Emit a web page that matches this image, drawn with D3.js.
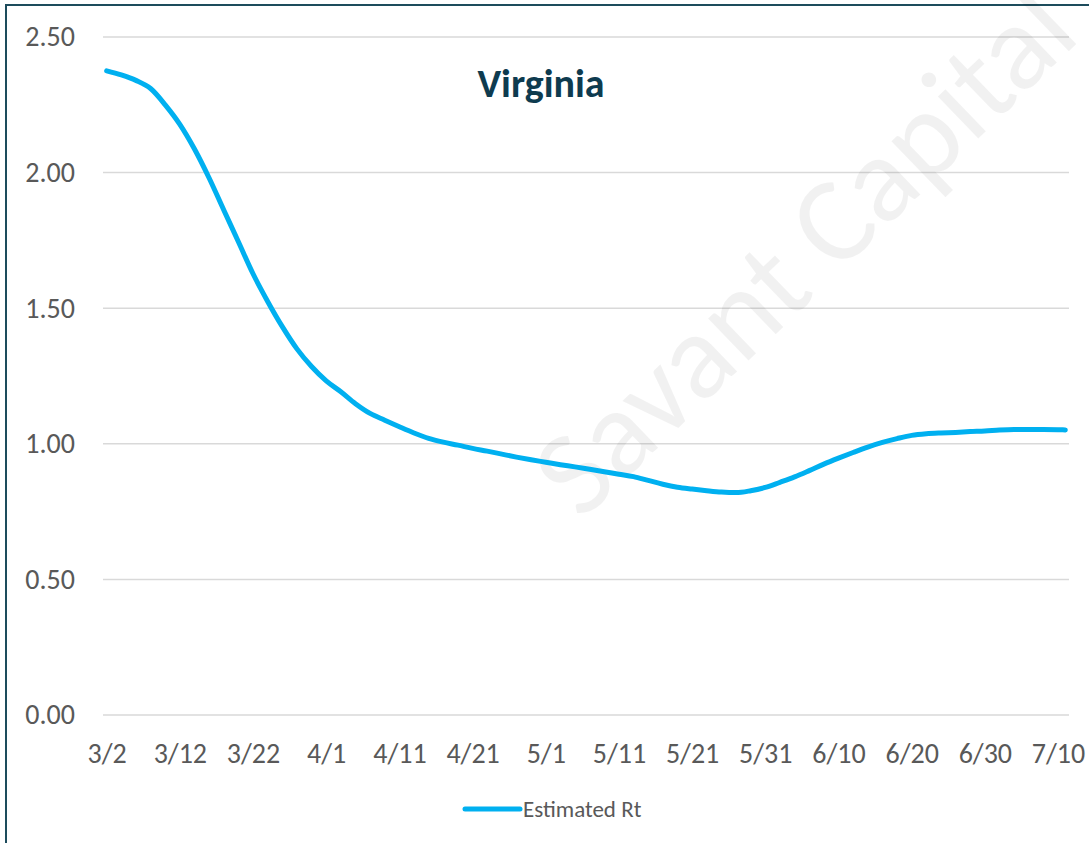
<!DOCTYPE html>
<html>
<head>
<meta charset="utf-8">
<script src="https://cdn.jsdelivr.net/npm/d3@7"></script>
<style>
  html, body { margin: 0; padding: 0; background: #fff; }
  svg { display: block; }
</style>
</head>
<body>
<div class="visContainer"></div>
<script>
// Chart data.
const dates = ['3/2','3/4','3/6','3/8','3/10','3/12','3/14','3/16','3/18','3/20',
  '3/22','3/24','3/26','3/28','3/30','4/1','4/3','4/5','4/7','4/9',
  '4/11','4/13','4/15','4/17','4/19','4/21','4/23','4/25','4/27','4/29',
  '5/1','5/3','5/5','5/7','5/9','5/11','5/13','5/15','5/17','5/19',
  '5/21','5/23','5/25','5/27','5/29','5/31','6/2','6/4','6/6','6/8',
  '6/10','6/12','6/14','6/16','6/18','6/20','6/22','6/24','6/26','6/28',
  '6/30','7/2','7/4','7/6','7/8','7/10','7/11'];
const rtValues = [2.375, 2.36, 2.34, 2.31, 2.25, 2.178, 2.087, 1.98, 1.862, 1.745,
  1.627, 1.525, 1.432, 1.35, 1.285, 1.232, 1.192, 1.148, 1.112, 1.087,
  1.063, 1.04, 1.02, 1.006, 0.995, 0.983, 0.973, 0.962, 0.951, 0.941,
  0.932, 0.923, 0.915, 0.906, 0.897, 0.888, 0.879, 0.865, 0.851, 0.840,
  0.833, 0.827, 0.822, 0.820, 0.827, 0.839, 0.858, 0.878, 0.901, 0.925,
  0.947, 0.968, 0.988, 1.005, 1.019, 1.031, 1.037, 1.040, 1.042, 1.045,
  1.047, 1.051, 1.053, 1.053, 1.053, 1.052, 1.051];
const xTickLabels = ['3/2','3/12','3/22','4/1','4/11','4/21','5/1','5/11','5/21',
  '5/31','6/10','6/20','6/30','7/10'];
const yTickValues = [0, 0.5, 1, 1.5, 2, 2.5];
const seriesName = 'Estimated Rt';
const chartTitle = 'Virginia';
const watermark = 'Savant Capital';

const width = 1089;
const height = 843;
const plotLeft = 103, plotRight = 1069, plotTop = 37, plotBottom = 715;
const font = 'Carlito, Calibri, Lato, sans-serif';

const parse = d3.timeParse('%m/%d/%Y');
const toDate = (s) => parse(s + '/2020');
const halfDay = 12 * 3600 * 1000;

const data = dates.map((d, i) => ({ date: toDate(d), value: rtValues[i] }));

// Scales
const xScale = d3.scaleTime()
  .domain([new Date(+toDate(dates[0]) - halfDay), new Date(+toDate(dates[dates.length - 1]) + halfDay)])
  .range([plotLeft, plotRight]);

const yScale = d3.scaleLinear()
  .domain([0, 2.5])
  .range([plotBottom, plotTop]);

const svg = d3.select('.visContainer')
  .append('svg')
  .attr('width', width)
  .attr('height', height);

// Outer frame (runs off the right and bottom edges)
svg.append('rect')
  .attr('x', 6)
  .attr('y', 5)
  .attr('width', width + 20)
  .attr('height', height + 20)
  .attr('fill', '#fff')
  .attr('stroke', '#1d4c5c')
  .attr('stroke-width', 2);

// Gridlines
svg.append('g')
  .attr('class', 'grid')
  .selectAll('line')
  .data(yTickValues)
  .enter()
  .append('line')
  .attr('x1', plotLeft)
  .attr('x2', plotRight)
  .attr('y1', (d) => yScale(d))
  .attr('y2', (d) => yScale(d))
  .attr('stroke', '#d9d9d9')
  .attr('stroke-width', 1.5);

// Watermark
svg.append('text')
  .attr('transform', 'translate(803,250) rotate(-44)')
  .attr('text-anchor', 'middle')
  .attr('dominant-baseline', 'central')
  .attr('font-family', font)
  .attr('font-size', '122px')
  .attr('fill', '#000')
  .attr('fill-opacity', 0.055)
  .text(watermark);

// Axes
const yAxis = d3.axisLeft(yScale)
  .tickValues(yTickValues)
  .tickFormat(d3.format('.2f'))
  .tickSize(0)
  .tickPadding(28);

svg.append('g')
  .attr('id', 'y-axis')
  .attr('transform', 'translate(' + plotLeft + ',0)')
  .call(yAxis)
  .call((g) => g.select('.domain').remove())
  .selectAll('text')
  .attr('font-family', font)
  .attr('font-size', '28px')
  .attr('fill', '#595959');

const xAxis = d3.axisBottom(xScale)
  .tickValues(xTickLabels.map(toDate))
  .tickFormat(d3.timeFormat('%-m/%-d'))
  .tickSize(0);

svg.append('g')
  .attr('id', 'x-axis')
  .attr('transform', 'translate(0,' + plotBottom + ')')
  .call(xAxis)
  .call((g) => g.select('.domain').remove())
  .selectAll('text')
  .attr('y', 38)
  .attr('dy', '0.35em')
  .attr('font-family', font)
  .attr('font-size', '28px')
  .attr('fill', '#595959');

// Series line
const line = d3.line()
  .x((d) => xScale(d.date))
  .y((d) => yScale(d.value))
  .curve(d3.curveMonotoneX);

svg.append('path')
  .datum(data)
  .attr('fill', 'none')
  .attr('stroke', '#00b0f0')
  .attr('stroke-width', 5)
  .attr('stroke-linecap', 'round')
  .attr('stroke-linejoin', 'round')
  .attr('d', line);

// Title
svg.append('text')
  .attr('x', 541)
  .attr('y', 97)
  .attr('text-anchor', 'middle')
  .attr('font-family', font)
  .attr('font-weight', 'bold')
  .attr('font-size', '40px')
  .attr('fill', '#0e3b4f')
  .text(chartTitle);

// Legend
const legend = svg.append('g').attr('transform', 'translate(465,809)');
legend.append('line')
  .attr('x1', 0)
  .attr('x2', 55)
  .attr('stroke', '#00b0f0')
  .attr('stroke-width', 5)
  .attr('stroke-linecap', 'round');
legend.append('text')
  .attr('x', 58)
  .attr('dy', '0.35em')
  .attr('font-family', font)
  .attr('font-size', '23px')
  .attr('fill', '#595959')
  .text(seriesName);
</script>
</body>
</html>
